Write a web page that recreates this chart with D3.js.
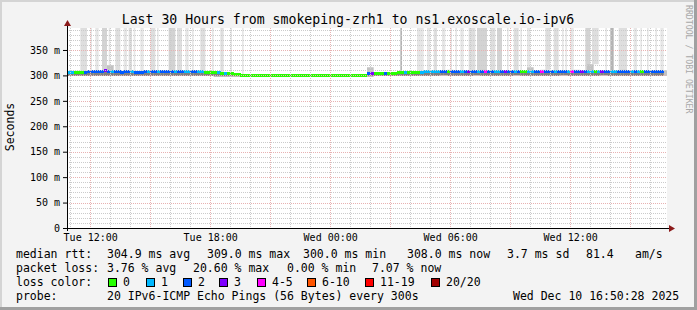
<!DOCTYPE html>
<html>
<head>
<meta charset="utf-8">
<script src="https://cdn.jsdelivr.net/npm/d3@7"></script>
<style>
  body { margin: 0; background: #f3f3f3; }
  svg { display: block; font-family: "DejaVu Sans Mono", monospace; }
</style>
</head>
<body>
<div class="smokeChart"></div>
<script>
const title = "Last 30 Hours from smokeping-zrh1 to ns1.exoscale.io-ipv6";
const startTime = new Date(2025, 11, 9, 10, 50, 28);
const endTime = new Date(2025, 11, 10, 16, 50, 28);

// median rtt (ms), one value every 10 minutes
const medianStepMin = 10;
const median = [
  305,305,306,306,305,306,307,307,307,307,307,309,307,307,307,307,306,307,
  307,307,306,305,306,307,307,307,307,307,307,307,307,307,307,307,307,307,
  308,307,307,307,307,306,306,306,305,305,304,304,303,303,302,301,300,300,
  300,300,300,300,300,300,300,300,300,300,300,300,300,300,300,300,300,300,
  300,300,300,300,300,300,300,300,300,300,300,300,300,300,300,300,300,300,
  303,303,304,304,303,304,304,304,304,305,305,305,305,305,306,306,306,307,
  307,307,307,307,308,307,307,307,307,308,307,307,308,307,307,307,308,308,
  307,307,307,308,307,307,307,307,307,307,308,308,307,307,308,307,307,307,
  307,308,307,307,308,308,307,307,308,307,307,307,307,308,308,307,307,308,
  308,307,307,308,308,308,308,307,307,308,308,308,308,308,308,308,308,null
];

// lost pings out of 20, same steps
const loss = [
  1,1,0,0,0,2,2,2,2,2,2,3,2,1,2,2,2,2,
  2,1,2,2,2,2,1,2,2,1,2,2,2,2,1,2,2,1,
  1,2,2,1,1,0,0,0,0,1,0,1,0,0,0,0,0,0,
  0,0,0,0,0,0,0,0,0,0,0,0,0,0,0,0,0,0,
  0,0,0,0,0,0,0,0,0,0,0,0,0,0,0,0,0,0,
  2,3,0,0,0,2,0,0,0,0,0,1,0,0,0,0,1,1,
  1,1,1,1,2,2,0,2,2,2,1,2,3,2,2,1,2,4,
  2,2,1,1,2,3,2,2,1,2,0,0,1,1,2,2,4,2,
  2,2,1,2,2,2,1,4,2,2,3,2,1,1,0,1,3,2,
  2,1,1,2,2,2,2,1,2,1,0,2,2,2,2,2,2,null
];

// smoke spread (ms), one value every 20 minutes
const smokeStepMin = 20;
const smokeLo = [
  301,301,301,301,301,301,301,301,301,301,301,301,301,301,301,301,301,301,
  301,301,301,301,300,300,300,300,300,300,300,300,300,300,300,300,300,300,
  300,300,300,300,300,300,300,300,300,300,301,301,301,301,301,301,301,301,
  301,301,302,301,301,301,301,302,301,301,301,301,301,302,301,301,301,301,
  301,301,302,301,301,301,301,301,302,301,301,301,301,301,301,301,301,301
];
const smokeHi = [
  309,309,309,310,309,310,320,310,309,310,309,309,310,309,309,310,309,310,
  309,309,309,308,307,306,304,302,300,300,300,300,300,300,300,300,300,300,
  300,300,300,300,300,300,300,300,300,316,306,306,306,306,307,307,307,308,
  310,309,310,311,310,310,309,310,311,310,310,310,309,310,310,316,310,311,
  310,309,310,310,311,310,322,310,310,309,310,311,310,310,310,309,310,310
];

// pings above the graph top: start (5 minute step), length (steps), pings
const spikeStart = [8,14,17,21,25,29,34,37,40,44,50,54,61,66,71,75,80,87,92,98,105,
  200,210,216,220,225,230,233,236,241,246,254,258,264,268,272,276,
  287,292,297,299,302,311,315,323,326,331,340,344,348,353,356];
const spikeLen = [4,1,2,3,1,3,2,2,1,2,3,1,4,3,2,1,3,1,2,1,1,
  1,4,2,2,2,1,1,2,4,6,3,3,1,3,1,2,
  3,3,1,1,2,3,4,1,2,5,2,1,1,1,2];
const spikePings = [2,1,1,3,1,2,1,2,1,1,2,1,3,2,1,1,2,1,2,1,1,
  4,1,1,2,1,1,1,1,2,3,2,3,1,2,1,1,
  2,2,1,1,1,3,2,1,4,2,1,1,1,1,1];

const lossLabels = ["0", "1", "2", "3", "4-5", "6-10", "11-19", "20/20"];
const lossColors = ["#26ff00", "#00b8ff", "#0059ff", "#7e00ff", "#ff00ff", "#ff5500", "#ff0000", "#a10000"];
const yTicks = [0, 50, 100, 150, 200, 250, 300, 350];
const yMax = 393.2;

const rttStats = ["304.9 ms avg", "309.0 ms max", "300.0 ms min", "308.0 ms now", "3.7 ms sd", "81.4", "am/s"];
const lossStats = ["3.76 % avg", "20.60 % max", "0.00 % min", "7.07 % now"];
const probeText = "20 IPv6-ICMP Echo Pings (56 Bytes) every 300s";
const stampText = "Wed Dec 10 16:50:28 2025";

const width = 697, height = 310;
const plot = { left: 67, right: 667, top: 28, bottom: 228 };

const svg = d3.select(".smokeChart").append("svg")
  .attr("width", width)
  .attr("height", height);

// frame
svg.append("rect").attr("width", width).attr("height", height).attr("fill", "#f3f3f3");
svg.append("path").attr("d", `M0,0H${width}V2H2V${height}H0Z`).attr("fill", "#d4d4d4");
svg.append("path").attr("d", `M${width},${height}H0V${height - 3}H${width - 3}V0H${width}Z`).attr("fill", "#a0a0a0");

svg.append("rect")
  .attr("x", plot.left).attr("y", plot.top)
  .attr("width", plot.right - plot.left).attr("height", plot.bottom - plot.top)
  .attr("fill", "#fff");

const x = d3.scaleTime().domain([startTime, endTime]).range([plot.left, plot.right]);
const y = d3.scaleLinear().domain([0, yMax]).range([plot.bottom, plot.top]);

const addMin = (m) => new Date(startTime.getTime() + m * 60000);
const lossIndex = (n) => n <= 3 ? n : n <= 5 ? 4 : n <= 10 ? 5 : n < 20 ? 6 : 7;
const spikeFill = ["#fff", "#e6e6e6", "#dedede", "#d3d3d3", "#b4b4b4"];

// grey columns for pings off the top
const g = svg.append("g");
g.selectAll(".spike")
  .data(spikeStart.map((s, i) => ({ s: s, len: spikeLen[i], n: spikePings[i] })))
  .join("rect")
  .attr("class", "spike")
  .attr("x", (d) => x(addMin(d.s * 5)))
  .attr("width", (d) => x(addMin((d.s + d.len) * 5)) - x(addMin(d.s * 5)))
  .attr("y", plot.top)
  .attr("height", (d) => {
    const hi = smokeHi[Math.floor(d.s * 5 / smokeStepMin)];
    return y(hi) - plot.top;
  })
  .attr("fill", (d) => spikeFill[Math.min(d.n, 4)]);

// grid
const minorH = d3.range(10, yMax, 10).filter((v) => v % 50 != 0);
const majorH = d3.range(50, yMax, 50);
const minorV = d3.timeHour.every(1).range(startTime, endTime).filter((d) => d.getHours() % 3 != 0);
const majorV = d3.timeHour.every(3).range(startTime, endTime);

const grid = svg.append("g").attr("shape-rendering", "crispEdges");
grid.selectAll(".hmin").data(minorH).join("line")
  .attr("x1", plot.left).attr("x2", plot.right)
  .attr("y1", (d) => Math.round(y(d)) + 0.5).attr("y2", (d) => Math.round(y(d)) + 0.5)
  .attr("stroke", "#cbcbcb").attr("stroke-dasharray", "1,1");
grid.selectAll(".vmin").data(minorV).join("line")
  .attr("y1", plot.top).attr("y2", plot.bottom)
  .attr("x1", (d) => Math.round(x(d)) + 0.5).attr("x2", (d) => Math.round(x(d)) + 0.5)
  .attr("stroke", "#cbcbcb").attr("stroke-dasharray", "1,1");
grid.selectAll(".hmaj").data(majorH).join("line")
  .attr("x1", plot.left).attr("x2", plot.right)
  .attr("y1", (d) => Math.round(y(d)) + 0.5).attr("y2", (d) => Math.round(y(d)) + 0.5)
  .attr("stroke", "#e8b2b2").attr("stroke-dasharray", "1,1");
grid.selectAll(".vmaj").data(majorV).join("line")
  .attr("y1", plot.top).attr("y2", plot.bottom)
  .attr("x1", (d) => Math.round(x(d)) + 0.5).attr("x2", (d) => Math.round(x(d)) + 0.5)
  .attr("stroke", "#e8b2b2").attr("stroke-dasharray", "1,1");

// smoke around the median
g.append("g").selectAll("rect")
  .data(smokeLo.map((lo, i) => ({ i: i, lo: lo, hi: smokeHi[i] })))
  .join("rect")
  .attr("x", (d) => x(addMin(d.i * smokeStepMin)))
  .attr("width", (d) => x(addMin((d.i + 1) * smokeStepMin)) - x(addMin(d.i * smokeStepMin)))
  .attr("y", (d) => y(d.hi))
  .attr("height", (d) => Math.max(0, y(d.lo) - y(d.hi) + 1))
  .attr("fill", "#c2c2c2");

const medData = median
  .map((m, i) => ({ i: i, m: m, l: loss[i] }))
  .filter((d) => d.m != null);

g.append("g").selectAll("rect")
  .data(medData)
  .join("rect")
  .attr("x", (d) => x(addMin(d.i * medianStepMin)))
  .attr("width", (d) => x(addMin((d.i + 1) * medianStepMin)) - x(addMin(d.i * medianStepMin)))
  .attr("y", (d) => y(d.m))
  .attr("height", (d) => {
    const lo = smokeLo[Math.floor(d.i * medianStepMin / smokeStepMin)];
    return Math.max(0, y(lo) - y(d.m) + 1);
  })
  .attr("fill", "#808080");

// median line coloured by loss
g.append("g").attr("shape-rendering", "crispEdges").selectAll("rect")
  .data(medData)
  .join("rect")
  .attr("x", (d) => x(addMin(d.i * medianStepMin)))
  .attr("width", (d) => x(addMin((d.i + 1) * medianStepMin)) - x(addMin(d.i * medianStepMin)) + 0.3)
  .attr("y", (d) => y(d.m) - 1.5)
  .attr("height", 3)
  .attr("fill", (d) => lossColors[lossIndex(d.l)]);

// axes
const yAxis = svg.append("g")
  .attr("transform", `translate(${plot.left},0)`)
  .call(d3.axisLeft(y).tickValues(yTicks).tickSize(4).tickPadding(3)
    .tickFormat((d) => d == 0 ? "0" : d + " m"));
yAxis.select(".domain").remove();
yAxis.selectAll("text").attr("font-size", "10px").attr("font-family", "DejaVu Sans Mono").attr("fill", "#000");
yAxis.selectAll("line").attr("stroke", "#000");

const labelTimes = d3.timeHour.every(6).range(startTime, endTime);
const xAxis = svg.append("g")
  .attr("transform", `translate(0,${plot.bottom})`)
  .call(d3.axisBottom(x).tickValues(labelTimes).tickSize(0).tickPadding(6)
    .tickFormat(d3.timeFormat("%a %H:%M")));
xAxis.select(".domain").remove();
xAxis.selectAll("text").attr("font-size", "10px").attr("font-family", "DejaVu Sans Mono").attr("fill", "#000");

svg.append("line")
  .attr("x1", plot.left + 0.5).attr("x2", plot.left + 0.5)
  .attr("y1", plot.bottom + 3).attr("y2", 23)
  .attr("stroke", "#000");
svg.append("line")
  .attr("x1", plot.left - 3).attr("x2", plot.right + 4)
  .attr("y1", plot.bottom + 0.5).attr("y2", plot.bottom + 0.5)
  .attr("stroke", "#000");
svg.append("path").attr("d", `M${plot.left - 3},26L${plot.left + 4},26L${plot.left + 0.5},20Z`).attr("fill", "#8b1a1a");
svg.append("path").attr("d", `M${plot.right + 2},${plot.bottom - 3}L${plot.right + 2},${plot.bottom + 4}L${plot.right + 8},${plot.bottom + 0.5}Z`).attr("fill", "#8b1a1a");

// titles
svg.append("text")
  .attr("x", 348).attr("y", 24)
  .attr("text-anchor", "middle")
  .attr("font-size", "13.2px")
  .text(title);

svg.append("text")
  .attr("transform", "translate(14,127) rotate(-90)")
  .attr("text-anchor", "middle")
  .attr("font-size", "11.5px")
  .text("Seconds");

svg.append("text")
  .attr("transform", "translate(686,5) rotate(90)")
  .attr("font-size", "8.2px")
  .attr("fill", "#a8a8a8")
  .text("RRDTOOL / TOBI OETIKER");

// legend
const legend = svg.append("g").attr("font-size", "11.5px").attr("fill", "#000");
const row = (yy, items) => items.forEach(([xx, t]) =>
  legend.append("text").attr("x", xx).attr("y", yy).attr("xml:space", "preserve").text(t));

row(258, [[16, "median rtt:"], [107, rttStats[0]], [207, rttStats[1]], [303, rttStats[2]],
  [407, rttStats[3]], [507, rttStats[4]], [586, rttStats[5]], [635, rttStats[6]]]);
row(272, [[16, "packet loss:"], [107, lossStats[0]], [193, lossStats[1]], [287, lossStats[2]], [372, lossStats[3]]]);
row(286, [[16, "loss color:"]]);
row(300, [[16, "probe:"], [107, probeText], [513, stampText]]);

const boxX = [108, 146, 183, 219, 257, 307, 365, 431];
const keys = legend.selectAll(".key").data(lossLabels).join("g")
  .attr("transform", (d, i) => `translate(${boxX[i]},278)`);
keys.append("rect")
  .attr("x", 0.5).attr("y", 0.5).attr("width", 8).attr("height", 8)
  .attr("fill", (d, i) => lossColors[i]).attr("stroke", "#000");
keys.append("text").attr("x", 15).attr("y", 8).text((d) => d);
</script>
</body>
</html>
